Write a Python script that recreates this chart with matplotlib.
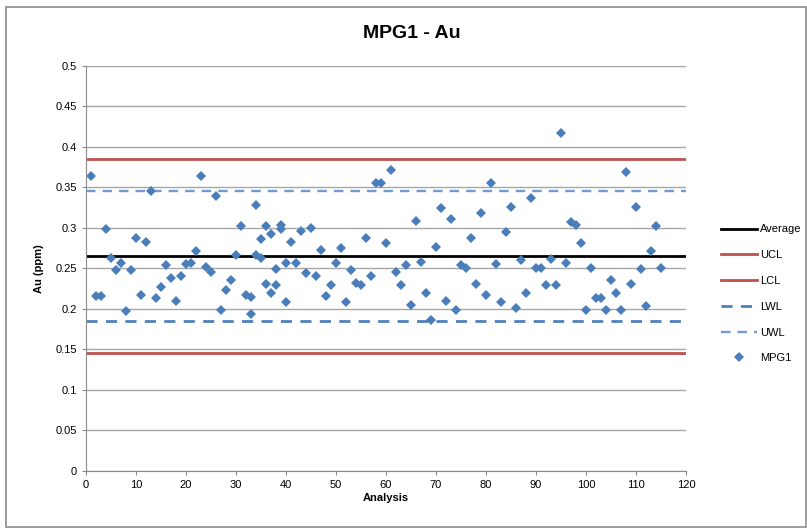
import matplotlib
matplotlib.use('Agg')
import matplotlib.pyplot as plt
from matplotlib.patches import Rectangle

plt.rcParams['font.family'] = ['Liberation Sans', 'DejaVu Sans']

# analysis number and Au value (ppm)
analysis = [1, 2, 3, 4, 5, 6, 7, 8, 9, 10,
            11, 12, 13, 14, 15, 16, 17, 18, 19, 20,
            21, 22, 23, 24, 25, 26, 27, 28, 29, 30,
            31, 32, 33, 33, 34, 34, 35, 35, 36, 36,
            37, 37, 38, 38, 39, 39, 40, 40, 41, 42,
            43, 44, 45, 46, 47, 48, 49, 50, 51, 52,
            53, 54, 55, 56, 57, 58, 59, 60, 61, 62,
            63, 64, 65, 66, 67, 68, 69, 70, 71, 72,
            73, 74, 75, 76, 77, 78, 79, 80, 81, 82,
            83, 84, 85, 86, 87, 88, 89, 90, 91, 92,
            93, 94, 95, 96, 97, 98, 99, 100, 101, 102,
            103, 104, 105, 106, 107, 108, 109, 110, 111, 112,
            113, 114, 115]
au = [0.364, 0.216, 0.216, 0.299, 0.263, 0.248, 0.257, 0.197, 0.248, 0.288,
      0.217, 0.282, 0.345, 0.213, 0.227, 0.254, 0.238, 0.210, 0.240, 0.255,
      0.256, 0.272, 0.364, 0.252, 0.246, 0.339, 0.199, 0.223, 0.235, 0.267,
      0.302, 0.217, 0.215, 0.194, 0.328, 0.267, 0.286, 0.263, 0.302, 0.231,
      0.292, 0.219, 0.249, 0.229, 0.304, 0.299, 0.257, 0.208, 0.282, 0.257,
      0.296, 0.244, 0.300, 0.241, 0.273, 0.216, 0.229, 0.257, 0.275, 0.208,
      0.248, 0.232, 0.229, 0.288, 0.241, 0.355, 0.356, 0.281, 0.371, 0.245,
      0.229, 0.254, 0.205, 0.308, 0.258, 0.219, 0.186, 0.276, 0.325, 0.210,
      0.311, 0.199, 0.254, 0.250, 0.288, 0.231, 0.319, 0.217, 0.356, 0.255,
      0.209, 0.295, 0.326, 0.201, 0.260, 0.219, 0.337, 0.250, 0.250, 0.229,
      0.261, 0.229, 0.417, 0.257, 0.307, 0.304, 0.281, 0.199, 0.250, 0.213,
      0.213, 0.198, 0.236, 0.219, 0.199, 0.369, 0.231, 0.326, 0.249, 0.204,
      0.272, 0.302, 0.250]

average = 0.265
ucl = 0.385
lcl = 0.145
lwl = 0.185
uwl = 0.345

fig = plt.figure(figsize=(8.07, 5.29), dpi=100)
fig.patches.append(Rectangle((6 / 807, 2 / 529), 800 / 807, 520 / 529, transform=fig.transFigure,
                             fill=False, edgecolor='#8c8c8c', linewidth=1.2))
ax = fig.add_axes([86 / 807, 58.3 / 529, 600 / 807, 404.7 / 529])

ax.set_xlim(0, 120)
ax.set_ylim(0, 0.5)
ax.set_xticks(range(0, 121, 10))
ax.set_yticks([i * 0.05 for i in range(11)])
ax.set_yticklabels(['0', '0.05', '0.1', '0.15', '0.2', '0.25', '0.3', '0.35', '0.4', '0.45', '0.5'])
ax.yaxis.grid(True, color='#a6a6a6', linewidth=1.0)
ax.set_axisbelow(True)
for side in ('top', 'right'):
    ax.spines[side].set_visible(False)
for side in ('left', 'bottom'):
    ax.spines[side].set_color('#8c8c8c')
ax.tick_params(axis='both', colors='#8c8c8c', labelcolor='black', labelsize=8, length=3)

ax.axhline(average, color='black', linewidth=2.0, label='Average')
ax.axhline(ucl, color='#c0504d', linewidth=2.0, label='UCL')
ax.axhline(lcl, color='#c0504d', linewidth=2.0, label='LCL')
ax.axhline(lwl, color='#4f81bd', linewidth=2.0, dashes=(4, 3), label='LWL')
ax.axhline(uwl, color='#6f9bd1', linewidth=1.7, dashes=(4, 3), label='UWL')
ax.plot(analysis, au, linestyle='none', marker='D', markersize=4.6,
        color='#4a7ebb', markeredgewidth=0, label='MPG1')

ax.set_xlabel('Analysis', fontsize=8, fontweight='bold', labelpad=2)
ax.set_ylabel('Au (ppm)', fontsize=8, fontweight='bold', labelpad=8)
fig.text(412 / 807, 1 - 33 / 529, 'MPG1 - Au', ha='center', va='center',
         fontsize=14, fontweight='bold')

fig.legend(loc='upper left', bbox_to_anchor=(717 / 807, 1 - 220 / 529), frameon=False,
           fontsize=8, handlelength=3.2, handletextpad=0.3, labelspacing=1.42,
           borderaxespad=0)

plt.savefig('out.png', dpi=100)
